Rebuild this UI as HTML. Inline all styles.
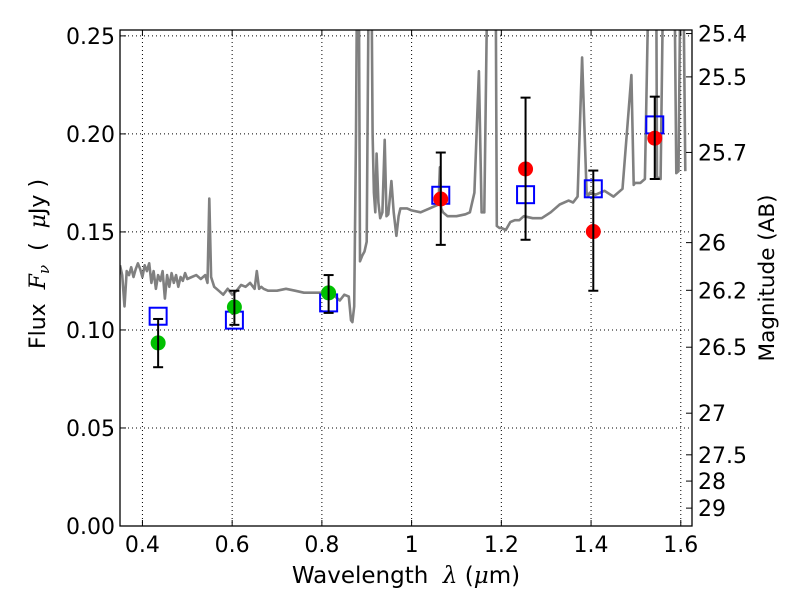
<!DOCTYPE html>
<html><head><meta charset="utf-8"><style>
body{margin:0;background:#fff;width:800px;height:600px;overflow:hidden}
svg{font-family:"DejaVu Sans","Liberation Sans",sans-serif}
</style></head><body>
<svg id="chart" width="800" height="600" xmlns="http://www.w3.org/2000/svg">
<g id="grid"></g>
<g id="spec" clip-path="url(#clip)"></g>
<g id="marks"></g>
<g id="axes"></g>
<defs><clipPath id="clip"><rect x="120" y="30" width="572" height="496"/></clipPath></defs>
<text x="406" y="583" font-size="23" text-anchor="middle" style="white-space:pre">Wavelength  <tspan font-style="italic" font-family="DejaVu Serif,serif">λ</tspan> (<tspan font-style="italic" font-family="DejaVu Serif,serif">μ</tspan>m)</text>
<text transform="translate(45,264) rotate(-90)" font-size="22" text-anchor="middle" style="white-space:pre">Flux  <tspan font-style="italic" font-family="DejaVu Serif,serif">F<tspan font-size="15" dy="4">ν</tspan></tspan><tspan dy="-4">  (  </tspan><tspan font-style="italic" font-family="DejaVu Serif,serif">μ</tspan>Jy )</text>
<text transform="translate(774,278) rotate(-90)" font-size="21.5" text-anchor="middle">Magnitude (AB)</text>
</svg>
<script>
const xTicks=[0.4,0.6,0.8,1.0,1.2,1.4,1.6];
const xTickLabels=["0.4","0.6","0.8","1","1.2","1.4","1.6"];
const yTicks=[0,0.05,0.10,0.15,0.20,0.25];
const yTickLabels=["0.00","0.05","0.10","0.15","0.20","0.25"];
const magTicks=[25.4,25.5,25.7,26,26.2,26.5,27,27.5,28,29];
const magLabels=["25.4","25.5","25.7","26","26.2","26.5","27","27.5","28","29"];
const obsWave=[0.435,0.605,0.815,1.065,1.254,1.405,1.542];
const obsFlux=[0.0934,0.1117,0.1189,0.1668,0.1821,0.1502,0.1978];
const obsHi=[0.1056,0.120,0.128,0.1905,0.2185,0.1813,0.219];
const obsLo=[0.081,0.1026,0.1087,0.1434,0.146,0.120,0.177];
const obsColor=["#00c000","#00c000","#00c000","#ff0000","#ff0000","#ff0000","#ff0000"];
const modelFlux=[0.107,0.105,0.1138,0.1687,0.169,0.172,0.2046];
const specWave=[0.35,0.355,0.36,0.365,0.37,0.375,0.38,0.385,0.39,0.395,0.40,0.405,0.41,0.415,0.42,0.425,0.43,0.435,0.44,0.445,0.45,0.455,0.46,0.465,0.47,0.475,0.48,0.485,0.49,0.495,0.50,0.51,0.52,0.53,0.54,0.545,0.549,0.553,0.56,0.57,0.58,0.59,0.60,0.61,0.62,0.63,0.64,0.65,0.655,0.66,0.665,0.67,0.68,0.70,0.72,0.74,0.76,0.78,0.80,0.82,0.83,0.84,0.85,0.86,0.865,0.868,0.872,0.876,0.879,0.882,0.885,0.89,0.895,0.90,0.905,0.91,0.913,0.916,0.919,0.922,0.926,0.93,0.935,0.94,0.944,0.948,0.955,0.96,0.966,0.971,0.975,0.98,0.99,1.00,1.02,1.04,1.06,1.063,1.066,1.07,1.08,1.10,1.12,1.13,1.14,1.15,1.156,1.162,1.17,1.18,1.183,1.187,1.19,1.196,1.20,1.21,1.22,1.23,1.24,1.25,1.27,1.29,1.31,1.33,1.35,1.36,1.37,1.38,1.39,1.393,1.397,1.40,1.41,1.43,1.45,1.47,1.49,1.495,1.498,1.502,1.51,1.52,1.53,1.54,1.545,1.547,1.555,1.562,1.567,1.571,1.575,1.58,1.585,1.59,1.595,1.60,1.605,1.61,1.615,1.62,1.625];
const specFlux=[0.133,0.128,0.112,0.130,0.128,0.132,0.127,0.131,0.134,0.131,0.127,0.133,0.130,0.134,0.124,0.130,0.121,0.128,0.125,0.130,0.116,0.128,0.122,0.129,0.124,0.128,0.122,0.127,0.125,0.129,0.126,0.127,0.128,0.126,0.128,0.124,0.167,0.127,0.122,0.120,0.118,0.121,0.118,0.120,0.123,0.122,0.124,0.121,0.130,0.121,0.122,0.121,0.120,0.120,0.121,0.120,0.119,0.119,0.119,0.118,0.117,0.115,0.118,0.117,0.105,0.104,0.112,0.20,0.30,0.30,0.135,0.138,0.140,0.145,0.30,0.30,0.20,0.17,0.16,0.19,0.165,0.157,0.160,0.197,0.158,0.159,0.176,0.160,0.148,0.158,0.162,0.162,0.162,0.161,0.160,0.162,0.164,0.183,0.162,0.160,0.158,0.158,0.159,0.160,0.170,0.232,0.160,0.160,0.30,0.30,0.30,0.30,0.153,0.152,0.152,0.151,0.155,0.156,0.156,0.158,0.157,0.157,0.160,0.164,0.166,0.165,0.168,0.239,0.170,0.168,0.170,0.170,0.169,0.171,0.168,0.172,0.230,0.174,0.175,0.175,0.175,0.177,0.30,0.30,0.30,0.178,0.177,0.30,0.30,0.30,0.30,0.30,0.30,0.180,0.181,0.30,0.30,0.181];
const X0=0.35,X1=1.625,PX0=120,PX1=692,PY0=526,PY1=30,YMAX=0.253;
const sx=v=>PX0+(v-X0)/(X1-X0)*(PX1-PX0);
const sy=v=>PY0-v/YMAX*(PY0-PY1);
const NS="http://www.w3.org/2000/svg";
function mk(p,tag,attrs){const e=document.createElementNS(NS,tag);for(const k in attrs)e.setAttribute(k,attrs[k]);p.appendChild(e);return e;}
const grid=document.getElementById('grid'),axes=document.getElementById('axes'),spec=document.getElementById('spec'),marks=document.getElementById('marks');
xTicks.forEach((t,i)=>{const x=sx(t);
 const g=mk(grid,'line',{x1:x,x2:x,y1:PY1,y2:PY0,stroke:'#000','stroke-width':1,'stroke-dasharray':'1,3'});
 
 
 mk(axes,'line',{x1:x,x2:x,y1:PY0,y2:PY0-6,stroke:'#000'});
 mk(axes,'line',{x1:x,x2:x,y1:PY1,y2:PY1+6,stroke:'#000'});
 const tl=mk(axes,'text',{x:x,y:PY0+26,'font-size':22,'text-anchor':'middle'});tl.textContent=xTickLabels[i];
 
 
});
yTicks.forEach((t,i)=>{const y=sy(t);
 const g=mk(grid,'line',{x1:PX0,x2:PX1,y1:y,y2:y,stroke:'#000','stroke-width':1,'stroke-dasharray':'1,3'});
 
 
 mk(axes,'line',{x1:PX0,x2:PX0+6,y1:y,y2:y,stroke:'#000'});
 const tl=mk(axes,'text',{x:PX0-5,y:y+8,'font-size':22,'text-anchor':'end'});tl.textContent=yTickLabels[i];
 
 
});
magTicks.forEach((m,i)=>{const y=sy(Math.pow(10,(23.9-m)/2.5));
 mk(axes,'line',{x1:PX1,x2:PX1-6,y1:y,y2:y,stroke:'#000'});
 const tl=mk(axes,'text',{x:PX1+6,y:y+8,'font-size':22});tl.textContent=magLabels[i];
 
 
});
const d=specWave.map((w,i)=>(i?'L':'M')+sx(w).toFixed(1)+','+sy(specFlux[i]).toFixed(1)).join('');
const sp=mk(spec,'path',{d:d,fill:'none',stroke:'#808080','stroke-width':2.6,'stroke-linejoin':'round'});


obsWave.forEach((w,i)=>{const x=sx(w);
 const sq=mk(marks,'rect',{x:x-8.5,y:sy(modelFlux[i])-8.5,width:17,height:17,fill:'none',stroke:'#0000ff','stroke-width':2});
 
 
 const c=mk(marks,'circle',{cx:x,cy:sy(obsFlux[i]),r:7.5,fill:obsColor[i]});
 
 
 const eg=mk(marks,'g',{stroke:'#000','stroke-width':2});
 
 
 mk(eg,'line',{x1:x,x2:x,y1:sy(obsHi[i]),y2:sy(obsLo[i])});
 mk(eg,'line',{x1:x-5,x2:x+5,y1:sy(obsHi[i]),y2:sy(obsHi[i])});
 mk(eg,'line',{x1:x-5,x2:x+5,y1:sy(obsLo[i]),y2:sy(obsLo[i])});
});
const fr=mk(axes,'rect',{x:PX0,y:PY1,width:PX1-PX0,height:PY0-PY1,fill:'none',stroke:'#000','stroke-width':1.3});


</script>
</body></html>
